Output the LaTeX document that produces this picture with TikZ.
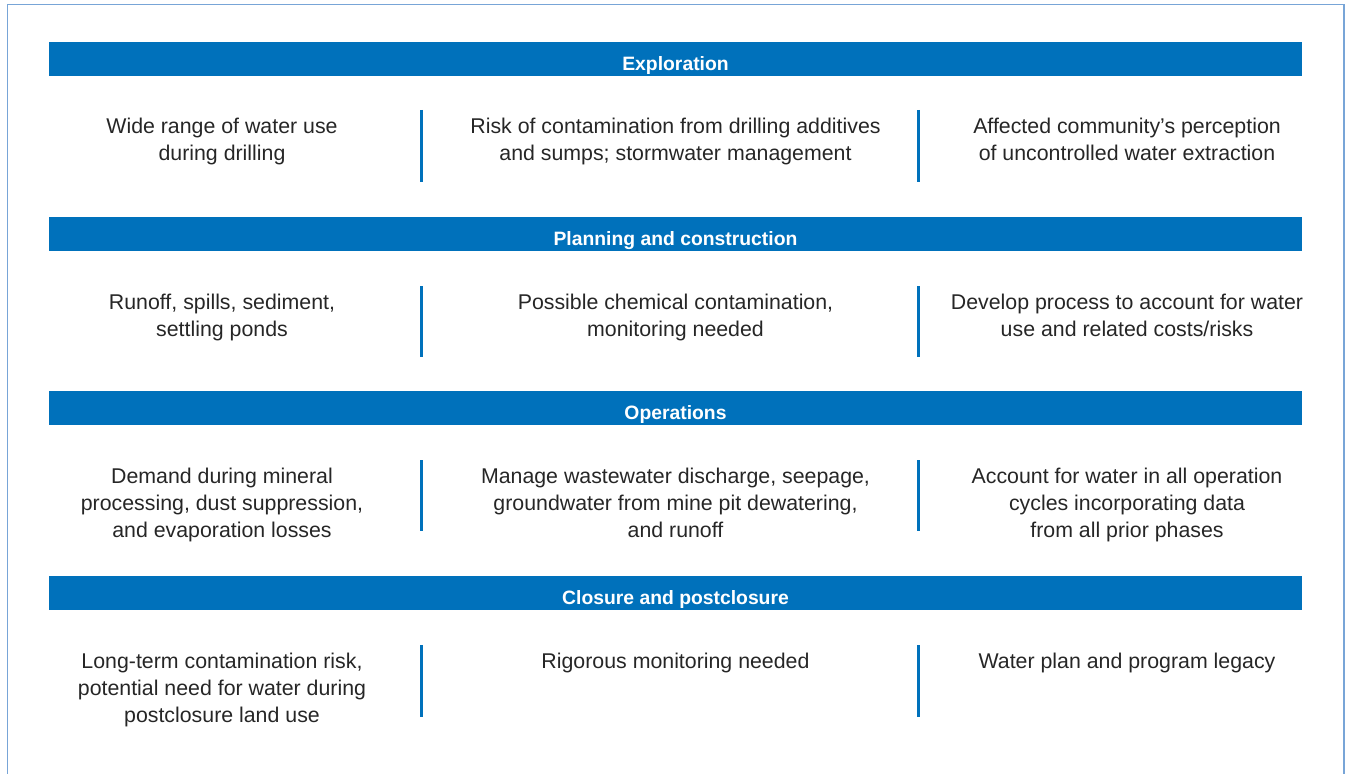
\documentclass[tikz,border=0pt]{standalone}
\usepackage{fontspec}
\setmainfont{Liberation Sans}
\definecolor{barblue}{RGB}{0,113,187}
\definecolor{frameblue}{RGB}{120,165,215}
\definecolor{txtgray}{RGB}{38,38,38}

\begin{document}
\begin{tikzpicture}[x=0.75pt,y=-0.75pt]
\useasboundingbox (0,0) rectangle (1346,774);
\draw[frameblue,line width=0.9pt] (7.5,774) -- (7.5,4.5) -- (1344,4.5) -- (1344,774);

\begin{scope}[every node/.style={fill=barblue,text=white,inner sep=0pt,
              minimum width=939.75pt,minimum height=25.5pt,
              text height=17pt,text depth=0.5pt,
              font=\fontsize{14.5}{17}\selectfont\bfseries}]
    \node (E) at (675.5,59) {Exploration};
    \node (P) at (675.5,234) {Planning and construction};
    \node (O) at (675.5,408) {Operations};
    \node (C) at (675.5,593) {Closure and postclosure};
\end{scope}

\begin{scope}[every path/.style={draw=barblue,line width=2.25pt}]
    \path (421.5,110) -- (421.5,182);
    \path (918,110) -- (918,182);
    \path (421.5,286) -- (421.5,357);
    \path (918,286) -- (918,357);
    \path (421.5,460) -- (421.5,531);
    \path (918,460) -- (918,531);
    \path (421.5,645) -- (421.5,717);
    \path (918,645) -- (918,717);
\end{scope}

\begin{scope}[every node/.style={anchor=north,align=center,inner sep=0pt,text=txtgray,
              font=\fontsize{16}{20.25}\selectfont}]
    \node (E1) at (222,118) {Wide range of water use\\during drilling};
    \node (E2) at (675.5,118) {Risk of contamination from drilling additives\\and sumps; stormwater management};
    \node (E3) at (1127,118) {Affected community’s perception\\of uncontrolled water extraction};
    \node (P1) at (222,294) {Runoff, spills, sediment,\\settling ponds};
    \node (P2) at (675.5,294) {Possible chemical contamination,\\monitoring needed};
    \node (P3) at (1127,294) {Develop process to account for water\\use and related costs/risks};
    \node (O1) at (222,468) {Demand during mineral\\processing, dust suppression,\\and evaporation losses};
    \node (O2) at (675.5,468) {Manage wastewater discharge, seepage,\\groundwater from mine pit dewatering,\\and runoff};
    \node (O3) at (1127,468) {Account for water in all operation\\cycles incorporating data\\from all prior phases};
    \node (C1) at (222,653) {Long-term contamination risk,\\potential need for water during\\postclosure land use};
    \node (C2) at (675.5,653) {Rigorous monitoring needed};
    \node (C3) at (1127,653) {Water plan and program legacy};
\end{scope}
\end{tikzpicture}
\end{document}
